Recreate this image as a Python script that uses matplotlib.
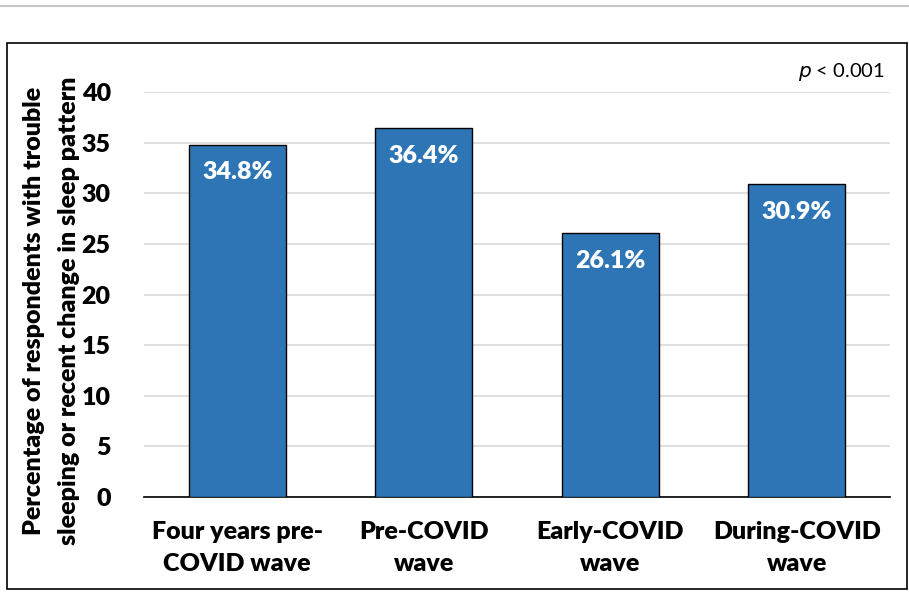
import matplotlib.pyplot as plt
from matplotlib.patches import Rectangle
from matplotlib.lines import Line2D

categories = ['Four years pre-\nCOVID wave', 'Pre-COVID\nwave', 'Early-COVID\nwave', 'During-COVID\nwave']
values = [34.8, 36.4, 26.1, 30.9]
bar_labels = ['34.8%', '36.4%', '26.1%', '30.9%']
yticks = [0, 5, 10, 15, 20, 25, 30, 35, 40]

W, H = 909, 592
fig = plt.figure(figsize=(W / 100, H / 100), dpi=100)
plt.rcParams['font.family'] = ['Lato', 'DejaVu Sans']
wt = 'heavy'

# gray rule at top and black frame
fig.add_artist(Line2D([0, 1], [1 - 5.5 / H, 1 - 5.5 / H], color='#c4c4c4', lw=1.5,
                      transform=fig.transFigure))
fig.add_artist(Rectangle((7.5 / W, 1 - 589 / H), (907 - 7.5) / W, (589 - 43) / H,
                         fill=False, edgecolor='black', lw=1.2, transform=fig.transFigure))

ax = fig.add_axes([144 / W, 1 - 497 / H, (890 - 144) / W, (497 - 92) / H])
x = range(len(categories))
bars = ax.bar(x, values, width=0.52, color='#2E75B6', edgecolor='black', linewidth=1.0, zorder=3)
ax.set_xlim(-0.5, len(categories) - 0.5)
ax.set_ylim(0, 40)
ax.set_yticks(yticks)
ax.set_yticklabels([str(t) for t in yticks], fontsize=18, fontweight=wt)
ax.set_xticks(list(x))
ax.set_xticklabels(categories, fontsize=18, fontweight=wt, linespacing=1.55)
ax.tick_params(axis='y', length=0, pad=24)
ax.tick_params(axis='x', length=0, pad=17)
ax.grid(axis='y', color='#d9d9d9', lw=1.2, zorder=0)
for s in ['left', 'right', 'top']:
    ax.spines[s].set_visible(False)
ax.spines['bottom'].set_color('black')
ax.spines['bottom'].set_linewidth(1.2)

for b, lab in zip(bars, bar_labels):
    ax.annotate(lab, (b.get_x() + b.get_width() / 2, b.get_height()), xytext=(0, -20),
                textcoords='offset points', ha='center', va='center', color='white',
                fontsize=18, fontweight=wt, zorder=4)

fig.text(885 / W, 1 - 72 / H, r'$p$ < 0.001', ha='right', va='center', fontsize=14.5)

fig.text(34 / W, 1 - 311 / H, 'Percentage of respondents with trouble',
         rotation=90, ha='center', va='center', fontsize=18, fontweight=wt)
fig.text(69 / W, 1 - 311 / H, 'sleeping or recent change in sleep pattern',
         rotation=90, ha='center', va='center', fontsize=18, fontweight=wt)

fig.savefig('out.png', dpi=100)
